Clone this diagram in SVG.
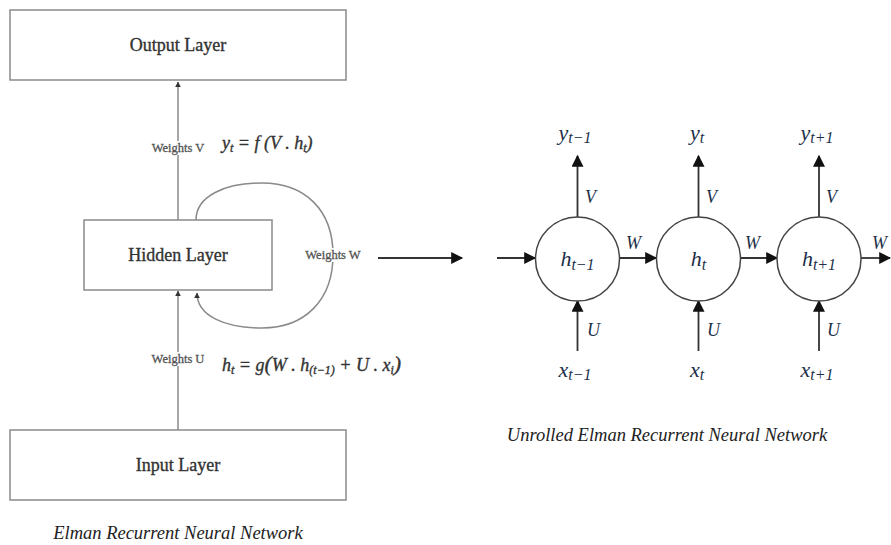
<svg xmlns="http://www.w3.org/2000/svg" width="891" height="545" viewBox="0 0 891 545">
  <style>
    .box { fill: #fff; stroke: #8a8a8a; stroke-width: 1.5; }
    .lbl { font-family: "Liberation Serif", serif; font-size: 18px; fill: #333; stroke: #333; stroke-width: 0.35; text-anchor: middle; }
    .wt { font-family: "Liberation Serif", serif; font-size: 12.5px; fill: #555; stroke: #555; stroke-width: 0.3; text-anchor: middle; }
    .eq { font-family: "Liberation Serif", serif; font-style: italic; font-size: 18px; fill: #333; stroke: #333; stroke-width: 0.35; }
    .cap { font-family: "Liberation Serif", serif; font-style: italic; font-size: 18.5px; fill: #222; text-anchor: middle; }
    .gline { stroke: #8a8a8a; stroke-width: 1.5; fill: none; }
    .bline { stroke: #333; stroke-width: 1.8; fill: none; }
    .cell { fill: #fff; stroke: #444; stroke-width: 1.5; }
    .m { font-family: "Liberation Serif", serif; font-style: italic; font-size: 22px; fill: #1d2f4a; text-anchor: middle; }
    .w { font-family: "Liberation Serif", serif; font-style: italic; font-size: 18px; fill: #1d2f4a; }
    .sub { font-size: 16px; }
  </style>
  <defs>
    <marker id="gh" viewBox="0 0 10 10" refX="9" refY="5" markerWidth="6" markerHeight="6" orient="auto" markerUnits="userSpaceOnUse">
      <path d="M0,0 L10,5 L0,10 z" fill="#333"/>
    </marker>
    <marker id="bh" viewBox="0 0 10 10" refX="9" refY="5" markerWidth="14" markerHeight="12" orient="auto" markerUnits="userSpaceOnUse">
      <path d="M0,0 L10,5 L0,10 z" fill="#111"/>
    </marker>
  </defs>

  <!-- Elman network, folded form -->
  <g id="connectors-left">
    <line class="gline" x1="178" y1="220" x2="178" y2="82" marker-end="url(#gh)"/>
    <line class="gline" x1="178" y1="430" x2="178" y2="291" marker-end="url(#gh)"/>
    <path class="gline" d="M196,220 C196,196 225,183 262,183 C305,183 333,210 333,255 C333,300 305,328 262,328 C225,328 197,316 197,293" marker-end="url(#gh)"/>
    <line class="bline" x1="378" y1="258" x2="462" y2="258" marker-end="url(#bh)"/>
  </g>

  <g id="output-layer">
    <rect class="box" x="10" y="10" width="336" height="70"/>
    <text class="lbl" x="178" y="51">Output Layer</text>
  </g>
  <g id="hidden-layer">
    <rect class="box" x="84" y="220" width="188" height="70"/>
    <text class="lbl" x="178" y="261">Hidden Layer</text>
  </g>
  <g id="input-layer">
    <rect class="box" x="10" y="430" width="336" height="70"/>
    <text class="lbl" x="178" y="471">Input Layer</text>
  </g>

  <g id="weights-labels">
    <rect x="149" y="141" width="58" height="14" fill="#fff"/>
    <text class="wt" x="178" y="152">Weights V</text>
    <rect x="149" y="352" width="58" height="14" fill="#fff"/>
    <text class="wt" x="178" y="363">Weights U</text>
    <rect x="302" y="248" width="62" height="14" fill="#fff"/>
    <text class="wt" x="333" y="259">Weights W</text>
  </g>

  <g id="equations">
    <text class="eq" x="222" y="149">y<tspan font-size="12" dy="3">t</tspan><tspan dy="-3"> = f (V . h</tspan><tspan font-size="12" dy="3">t</tspan><tspan dy="-3">)</tspan></text>
    <text class="eq" x="222" y="371">h<tspan font-size="12" dy="3">t</tspan><tspan dy="-3"> = g</tspan><tspan font-size="22">(</tspan>W . h<tspan font-size="12" dy="3">(t−1)</tspan><tspan dy="-3"> + U . x</tspan><tspan font-size="12" dy="3">i</tspan><tspan dy="-3" font-size="22">)</tspan></text>
  </g>

  <text class="cap" x="178" y="539">Elman Recurrent Neural Network</text>

  <!-- Elman network, unrolled over time -->
  <g id="connectors-right">
    <line class="bline" x1="497" y1="258" x2="535" y2="258" marker-end="url(#bh)"/>
    <line class="bline" x1="620" y1="258" x2="656" y2="258" marker-end="url(#bh)"/>
    <line class="bline" x1="741" y1="258" x2="777" y2="258" marker-end="url(#bh)"/>
    <line class="bline" x1="861" y1="258" x2="890" y2="258" marker-end="url(#bh)"/>
    <line class="bline" x1="577.5" y1="217" x2="577.5" y2="156" marker-end="url(#bh)"/>
    <line class="bline" x1="698.5" y1="217" x2="698.5" y2="156" marker-end="url(#bh)"/>
    <line class="bline" x1="819" y1="217" x2="819" y2="156" marker-end="url(#bh)"/>
    <line class="bline" x1="577.5" y1="351" x2="577.5" y2="301" marker-end="url(#bh)"/>
    <line class="bline" x1="698.5" y1="351" x2="698.5" y2="301" marker-end="url(#bh)"/>
    <line class="bline" x1="819" y1="351" x2="819" y2="301" marker-end="url(#bh)"/>
  </g>

  <g id="cell-t-minus-1">
    <circle class="cell" cx="577.5" cy="259" r="42"/>
    <text class="m" x="577.5" y="266">h<tspan class="sub" dy="4">t−1</tspan></text>
    <text class="m" x="575" y="140">y<tspan class="sub" dy="3">t−1</tspan></text>
    <text class="m" x="575" y="377">x<tspan class="sub" dy="3">t−1</tspan></text>
  </g>
  <g id="cell-t">
    <circle class="cell" cx="698.5" cy="259" r="42"/>
    <text class="m" x="698.5" y="266">h<tspan class="sub" dy="4">t</tspan></text>
    <text class="m" x="697" y="140">y<tspan class="sub" dy="3">t</tspan></text>
    <text class="m" x="697" y="377">x<tspan class="sub" dy="3">t</tspan></text>
  </g>
  <g id="cell-t-plus-1">
    <circle class="cell" cx="819" cy="259" r="42"/>
    <text class="m" x="819" y="266">h<tspan class="sub" dy="4">t+1</tspan></text>
    <text class="m" x="817" y="140">y<tspan class="sub" dy="3">t+1</tspan></text>
    <text class="m" x="817" y="377">x<tspan class="sub" dy="3">t+1</tspan></text>
  </g>

  <g id="weight-symbols">
    <text class="w" x="585" y="203">V</text>
    <text class="w" x="706" y="203">V</text>
    <text class="w" x="826" y="203">V</text>
    <text class="w" x="587" y="336">U</text>
    <text class="w" x="707" y="336">U</text>
    <text class="w" x="827" y="336">U</text>
    <text class="w" x="626" y="249">W</text>
    <text class="w" x="745" y="249">W</text>
    <text class="w" x="872" y="249">W</text>
  </g>

  <text class="cap" x="667" y="441">Unrolled Elman Recurrent Neural Network</text>
</svg>
